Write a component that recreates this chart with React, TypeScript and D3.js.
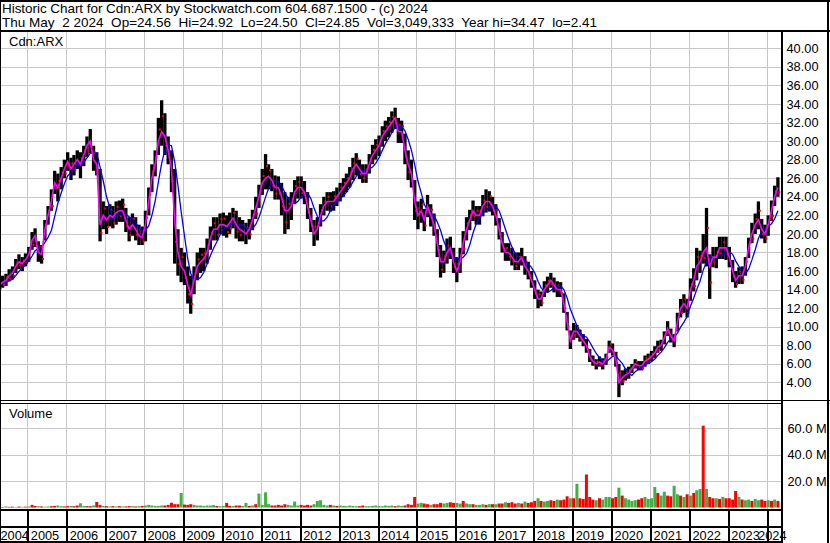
import React, { useEffect, useRef } from 'react';
import * as d3 from 'd3';

// monthly data, first entry = April 2004, last = April 2024
const START_YEAR = 2004;
const START_MONTH = 3; // April

// monthly average price (what the short moving average follows)
const avg = [
  14.5, 14.8, 15.0, 15.5, 15.8, 16.5, 17.0, 16.8, 17.2, // 2004
  17.8, 19.3, 19.8, 18.0, 17.8, 20.5, 22.0, 23.5, 25.5, 25.0, 26.0, 27.0, // 2005
  27.8, 27.0, 27.5, 28.0, 27.5, 28.5, 29.5, 30.0, 28.0, 27.5, 21.0, 22.0, // 2006
  21.5, 22.0, 21.8, 22.3, 22.5, 22.5, 21.5, 20.5, 21.0, 20.5, 19.8, 19.6, // 2007
  21.0, 23.5, 26.0, 27.5, 30.0, 31.0, 30.5, 29.0, 27.0, 21.5, 18.0, 16.5, // 2008
  16.0, 14.5, 13.5, 15.0, 16.5, 17.0, 17.3, 18.0, 19.5, 20.5, 20.5, 21.0, // 2009
  21.0, 20.8, 21.2, 21.7, 21.0, 20.5, 20.3, 20.0, 20.5, 21.5, 22.8, 24.0, // 2010
  25.5, 26.0, 26.2, 25.8, 25.0, 25.0, 24.0, 22.5, 22.5, 23.0, 24.5, 25.0, // 2011
  25.0, 24.5, 23.0, 21.5, 20.0, 20.5, 22.0, 23.0, 23.5, 23.5, 23.5, 24.0, // 2012
  24.5, 25.0, 25.5, 26.0, 27.0, 27.5, 27.0, 26.5, 26.5, 27.5, 28.5, 29.0, // 2013
  29.5, 30.5, 31.0, 31.5, 32.0, 32.5, 31.0, 31.0, 29.0, 27.5, 26.5, 23.5, // 2014
  22.0, 22.5, 21.5, 23.0, 22.0, 21.0, 19.0, 17.0, 17.0, 18.0, 18.5, 17.0, // 2015
  16.0, 17.0, 19.0, 20.5, 21.5, 22.5, 22.0, 22.0, 23.0, 23.5, 23.5, 23.0, // 2016
  22.0, 20.5, 19.0, 18.0, 18.0, 17.5, 17.0, 17.0, 17.5, 16.5, 16.0, 15.0, // 2017
  14.0, 13.0, 13.0, 14.0, 14.5, 15.0, 14.5, 14.0, 14.0, 12.5, 10.5, 8.5, // 2018
  9.5, 9.5, 9.0, 8.5, 8.0, 6.8, 6.3, 6.0, 6.2, 6.0, 6.5, 7.8, // 2019
  7.5, 6.5, 4.0, 4.5, 4.8, 5.0, 5.5, 6.0, 5.8, 5.8, 6.3, 6.5, // 2020
  6.8, 7.2, 7.8, 8.0, 8.8, 9.8, 9.0, 8.5, 10.5, 12.0, 12.5, 12.0, // 2021
  14.0, 15.0, 16.5, 17.0, 18.0, 18.5, 16.5, 17.5, 17.5, 18.5, 18.5, 18.5, // 2022
  17.5, 16.0, 15.0, 15.5, 15.5, 16.5, 18.5, 20.0, 21.0, 21.5, 20.5, 20.0, // 2023
  21.0, 22.5, 24.0, 25.0, // 2024
];

// monthly high
const hi = [
  15.2, 15.5, 15.7, 16.2, 16.5, 17.3, 17.8, 17.5, 17.9,
  18.6, 20.2, 20.6, 19.2, 18.8, 21.5, 23.0, 24.8, 26.8, 26.5, 27.2, 28.0,
  28.8, 28.2, 28.5, 29.0, 28.8, 29.5, 30.5, 31.3, 29.5, 28.8, 27.0, 23.5,
  23.0, 23.2, 23.0, 23.5, 23.6, 23.8, 22.8, 21.8, 22.2, 21.8, 21.0, 20.8,
  22.5, 25.0, 27.5, 29.0, 32.5, 34.4, 33.0, 30.5, 29.0, 27.0, 20.5, 18.5,
  18.0, 16.5, 15.5, 16.5, 18.0, 18.5, 18.5, 19.5, 20.8, 21.8, 21.8, 22.2,
  22.3, 22.0, 22.3, 22.8, 22.5, 21.8, 21.5, 21.2, 21.6, 22.6, 24.0, 25.3,
  27.0, 28.6, 27.5, 27.0, 26.3, 26.2, 25.5, 24.5, 24.0, 24.5, 25.8, 26.2,
  26.2, 25.7, 24.5, 22.8, 21.5, 21.8, 23.2, 24.0, 24.5, 24.5, 24.6, 25.0,
  25.5, 26.0, 26.5, 27.2, 28.2, 28.7, 28.0, 27.5, 27.5, 28.6, 29.6, 30.2,
  30.6, 31.6, 32.2, 32.6, 33.2, 33.6, 32.5, 32.2, 30.8, 29.0, 28.0, 25.8,
  23.5, 23.8, 22.7, 24.2, 23.2, 22.2, 20.5, 18.8, 18.2, 19.5, 19.7, 18.5,
  17.5, 18.5, 20.3, 21.8, 22.6, 23.6, 23.0, 23.0, 24.2, 24.8, 24.6, 24.0,
  23.2, 21.7, 20.2, 19.0, 19.0, 18.5, 18.0, 18.0, 18.5, 17.6, 17.0, 16.0,
  15.0, 14.0, 13.8, 14.9, 15.4, 15.8, 15.3, 14.9, 14.8, 13.6, 11.6, 9.6,
  10.4, 10.2, 9.7, 9.2, 8.7, 7.6, 6.9, 6.5, 6.8, 6.6, 7.1, 8.5,
  8.2, 7.3, 6.0, 5.3, 5.5, 5.7, 6.0, 6.5, 6.3, 6.3, 6.9, 7.1,
  7.4, 7.9, 8.5, 8.6, 9.5, 10.6, 9.8, 9.2, 11.5, 13.0, 13.5, 13.0,
  15.2, 16.3, 18.5, 18.2, 20.0, 22.8, 17.8, 18.6, 18.6, 19.7, 19.7, 19.7,
  18.6, 17.2, 16.0, 16.4, 16.5, 17.5, 19.6, 21.2, 22.2, 23.5, 21.6, 21.0,
  22.0, 23.6, 25.2, 26.1,
];

// monthly low
const lo = [
  13.9, 14.2, 14.4, 14.9, 15.1, 15.8, 16.2, 16.0, 16.5,
  17.0, 18.3, 18.6, 17.0, 16.8, 19.3, 21.0, 22.5, 24.3, 23.5, 24.8, 26.0,
  26.8, 25.8, 26.3, 27.0, 26.0, 27.3, 28.3, 28.7, 26.8, 26.3, 19.2, 20.5,
  20.0, 20.8, 20.6, 21.0, 21.3, 21.3, 20.2, 19.2, 19.8, 19.3, 18.8, 18.8,
  19.2, 22.0, 24.5, 26.2, 28.5, 29.5, 28.5, 27.5, 24.5, 16.8, 15.5, 14.8,
  14.5, 12.5, 11.4, 13.5, 15.0, 15.8, 16.0, 16.8, 18.3, 19.3, 19.3, 20.0,
  19.8, 19.6, 20.0, 20.6, 19.5, 19.2, 19.2, 18.9, 19.4, 20.4, 21.6, 22.8,
  24.2, 24.8, 24.8, 24.6, 23.7, 23.7, 22.0, 20.0, 20.5, 21.5, 23.2, 23.8,
  23.8, 23.2, 21.6, 20.2, 18.7, 19.3, 20.8, 22.0, 22.5, 22.4, 22.5, 23.0,
  23.5, 24.0, 24.5, 25.0, 25.8, 26.3, 25.9, 25.5, 25.5, 26.5, 27.5, 28.0,
  28.4, 29.4, 30.0, 30.4, 30.9, 31.3, 29.8, 29.8, 27.5, 25.8, 25.0, 21.5,
  20.5, 21.2, 20.3, 21.8, 20.8, 19.8, 17.5, 15.3, 15.8, 16.8, 17.3, 15.8,
  14.8, 15.8, 17.8, 19.3, 20.4, 21.4, 21.0, 21.0, 21.9, 22.3, 22.4, 22.0,
  20.9, 19.4, 18.0, 17.1, 17.1, 16.6, 16.1, 16.1, 16.6, 15.6, 15.1, 14.2,
  13.0, 12.0, 12.2, 13.2, 13.7, 14.2, 13.7, 13.2, 13.2, 11.5, 9.6, 7.6,
  8.6, 8.8, 8.4, 7.9, 7.2, 6.2, 5.8, 5.4, 5.7, 5.4, 5.9, 7.2,
  6.9, 5.7, 2.41, 3.7, 4.2, 4.4, 5.0, 5.5, 5.3, 5.3, 5.7, 6.0,
  6.3, 6.6, 7.2, 7.4, 8.1, 9.0, 8.3, 7.8, 9.5, 11.0, 11.5, 11.0,
  12.8, 13.8, 15.0, 15.8, 16.8, 16.5, 13.0, 16.4, 16.3, 17.3, 17.3, 17.2,
  16.4, 14.8, 14.2, 14.6, 14.6, 15.5, 17.4, 19.0, 20.0, 20.5, 19.5, 19.0,
  19.8, 21.4, 23.0, 24.0,
];

// biggest daily volume in each month, millions
const vol = [
  0.5, 0.4, 0.8, 0.5, 0.6, 0.4, 0.7, 0.5, 0.6,
  0.8, 2.0, 1.2, 1.0, 0.8, 0.6, 0.8, 1.0, 1.2, 1.5, 1.0, 0.8,
  1.0, 1.2, 1.0, 1.5, 3.2, 1.2, 1.0, 1.0, 1.5, 4.2, 2.0, 1.2,
  1.0, 0.8, 1.0, 0.8, 1.0, 0.8, 0.8, 1.0, 1.0, 0.8, 1.0, 1.2,
  1.5, 2.0, 1.5, 1.2, 1.2, 1.5, 1.5, 2.0, 3.6, 2.5, 2.5, 11.0,
  2.2, 2.0, 2.5, 2.0, 1.5, 1.5, 1.2, 1.5, 1.5, 1.8, 1.2, 1.0,
  1.2, 3.5, 1.2, 1.2, 1.5, 1.5, 1.2, 3.5, 1.2, 1.5, 2.5, 10.5,
  2.0, 11.5, 2.5, 1.5, 1.5, 2.0, 1.5, 2.5, 2.0, 1.5, 4.5, 1.5,
  2.0, 1.5, 2.0, 1.5, 2.5, 5.0, 5.5, 2.0, 1.5, 2.0, 1.5, 1.2,
  1.5, 1.2, 1.0, 1.5, 1.2, 1.0, 1.0, 1.5, 1.0, 1.0, 1.2, 1.5,
  1.2, 1.0, 1.5, 1.2, 1.5, 1.0, 1.5, 1.2, 1.5, 2.5, 2.0, 8.0,
  3.0, 3.5, 3.0, 2.5, 2.0, 2.5, 2.5, 3.5, 3.0, 3.5, 4.0, 3.5,
  3.5, 3.0, 5.0, 3.0, 2.5, 2.5, 2.0, 2.0, 2.5, 2.0, 2.5, 2.5,
  2.5, 3.0, 3.0, 4.0, 3.5, 4.0, 3.0, 3.5, 3.0, 4.5, 3.5, 4.0,
  5.0, 7.0, 5.0, 4.5, 5.0, 5.5, 5.0, 6.0, 5.5, 6.0, 8.5, 7.0,
  7.0, 18.0, 7.0, 6.5, 25.0, 8.0, 6.0, 5.5, 7.0, 6.0, 8.0, 8.0,
  7.0, 8.0, 15.0, 9.0, 7.0, 6.0, 5.0, 5.5, 6.0, 7.0, 8.0, 6.5,
  7.0, 15.5, 11.0, 9.0, 12.0, 9.0, 8.5, 16.5, 10.0, 9.0, 8.0, 10.0,
  9.0, 11.0, 13.0, 14.0, 62.0, 14.0, 8.0, 7.0, 7.0, 6.5, 8.0, 7.0,
  7.0, 6.0, 12.5, 8.0, 6.0, 5.5, 6.0, 5.0, 6.5, 5.5, 6.0, 5.0,
  5.5, 5.0, 6.0, 5.0,
];

// u = up (green volume), d = down (red volume)
const dir = [
  'dduddudud',
  'udduduudduud',
  'dudduudduddu',
  'dudududdudud',
  'uuuuuudddddu',
  'ddduuuuuuudu',
  'uddudduududu',
  'uuuddddduuuu',
  'dddduuuuudud',
  'uuuuuudduuuu',
  'uuuuuduudddd',
  'uudduddduudd',
  'uuduuduuudud',
  'uddudddududd',
  'duduuddudddu',
  'duddddduduuu',
  'dduduuuudduu',
  'uuduudduudud',
  'uduududdudud',
  'ddduduuduudd',
  'udud',
].join('');

const years = d3.range(2004, 2025);
const priceTicks = d3.range(4, 41, 2);
const volTicks = [20, 40, 60];

const headerLine1 = 'Historic Chart for Cdn:ARX by Stockwatch.com 604.687.1500 - (c) 2024';
const headerLine2 = 'Thu May  2 2024  Op=24.56  Hi=24.92  Lo=24.50  Cl=24.85  Vol=3,049,333  Year hi=34.47  lo=2.41';

export default function App() {
  const ref = useRef<SVGSVGElement | null>(null);

  useEffect(() => {
    const W = 830;
    const H = 543;
    const plotR = 781;
    const priceTop = 31;
    const priceBot = 401;
    const volTop = 404;
    const volBot = 509;
    const font = '"Liberation Sans", Arial, sans-serif';

    const svg = d3.select(ref.current);
    svg.selectAll('*').remove();

    const x = d3.scaleTime()
      .domain([new Date(2004, 3, 20), new Date(2024, 4, 14)])
      .range([0, plotR]);
    const y = d3.scaleLinear().domain([2, 41.86]).range([priceBot, priceTop]);
    const yv = d3.scaleLinear().domain([0, 60]).range([507.5, 428.3]);

    const data = avg.map((a, i) => ({
      date: new Date(START_YEAR, START_MONTH + i, 15),
      avg: a,
      hi: hi[i],
      lo: lo[i],
      vol: vol[i],
      up: dir[i] === 'u',
    }));
    // slow average: 5 months (~100 days)
    const slow = data.map((d, i) => {
      const w = data.slice(Math.max(0, i - 4), i + 1);
      return { date: d.date, v: d3.mean(w, (e) => e.avg) as number };
    });

    svg.append('rect').attr('width', W).attr('height', H).attr('fill', '#fff');

    const defs = svg.append('defs');
    defs.append('clipPath').attr('id', 'clipPrice')
      .append('rect').attr('x', 0).attr('y', priceTop).attr('width', plotR).attr('height', priceBot - priceTop);
    defs.append('clipPath').attr('id', 'clipVol')
      .append('rect').attr('x', 0).attr('y', volTop).attr('width', plotR).attr('height', volBot - volTop);

    // grid
    const grid = svg.append('g').attr('stroke', '#c8c8c8').attr('stroke-width', 1).attr('shape-rendering', 'crispEdges');
    years.slice(1).forEach((yr) => {
      const gx = Math.round(x(new Date(yr, 0, 1))) + 0.5;
      grid.append('line').attr('x1', gx).attr('x2', gx).attr('y1', priceTop).attr('y2', priceBot);
      grid.append('line').attr('x1', gx).attr('x2', gx).attr('y1', volTop).attr('y2', volBot);
    });
    priceTicks.forEach((t) => {
      const gy = Math.round(y(t)) + 0.5;
      grid.append('line').attr('x1', 0).attr('x2', plotR).attr('y1', gy).attr('y2', gy);
    });
    volTicks.forEach((t) => {
      const gy = Math.round(yv(t)) + 0.5;
      grid.append('line').attr('x1', 0).attr('x2', plotR).attr('y1', gy).attr('y2', gy);
    });

    // price bars
    const price = svg.append('g').attr('clip-path', 'url(#clipPrice)');
    price.selectAll('rect.bar')
      .data(data)
      .enter().append('rect')
      .attr('class', 'bar')
      .attr('x', (d) => x(d.date) - 1.65)
      .attr('width', 3.3)
      .attr('y', (d) => y(d.hi))
      .attr('height', (d) => y(d.lo) - y(d.hi))
      .attr('fill', '#000');

    price.selectAll('rect.tick')
      .data(data)
      .enter().append('rect')
      .attr('class', 'tick')
      .attr('x', (d) => x(d.date) + 0.4)
      .attr('y', (d) => y(d.up ? (d.avg + d.hi) / 2 : (d.avg + d.lo) / 2) - 1)
      .attr('width', 2)
      .attr('height', 2)
      .attr('fill', '#ff0000');

    price.append('path')
      .datum(slow)
      .attr('fill', 'none')
      .attr('stroke', '#0000ff')
      .attr('stroke-width', 1.3)
      .attr('d', d3.line<{ date: Date; v: number }>().x((d) => x(d.date)).y((d) => y(d.v)));

    price.append('path')
      .datum(data)
      .attr('fill', 'none')
      .attr('stroke', '#ff00ff')
      .attr('stroke-width', 1.6)
      .attr('d', d3.line<any>().x((d) => x(d.date)).y((d) => y(d.avg)));

    // volume bars
    const vg = svg.append('g').attr('clip-path', 'url(#clipVol)');
    vg.selectAll('rect')
      .data(data)
      .enter().append('rect')
      .attr('x', (d) => x(d.date) - 1.5)
      .attr('width', 3)
      .attr('y', (d) => yv(d.vol))
      .attr('height', (d) => yv(0) - yv(d.vol))
      .attr('fill', (d) => (d.up ? '#40b040' : '#ff0000'));

    // frame lines
    const frame = svg.append('g').attr('stroke', '#000').attr('shape-rendering', 'crispEdges');
    frame.append('line').attr('x1', 0).attr('x2', W).attr('y1', 1).attr('y2', 1).attr('stroke-width', 2);
    frame.append('line').attr('x1', 0.5).attr('x2', 0.5).attr('y1', 0).attr('y2', H).attr('stroke-width', 1);
    frame.append('line').attr('x1', 828).attr('x2', 828).attr('y1', 0).attr('y2', H).attr('stroke-width', 2);
    frame.append('line').attr('x1', 0).attr('x2', W).attr('y1', 30.5).attr('y2', 30.5).attr('stroke-width', 2);
    frame.append('line').attr('x1', plotR + 0.5).attr('x2', plotR + 0.5).attr('y1', 30).attr('y2', H).attr('stroke-width', 2);
    frame.append('line').attr('x1', 0).attr('x2', W).attr('y1', 400.5).attr('y2', 400.5).attr('stroke-width', 1);
    frame.append('line').attr('x1', 0).attr('x2', plotR).attr('y1', 403.5).attr('y2', 403.5).attr('stroke-width', 1);
    frame.append('line').attr('x1', 0).attr('x2', plotR).attr('y1', 509.5).attr('y2', 509.5).attr('stroke-width', 2);
    frame.append('line').attr('x1', 0).attr('x2', plotR).attr('y1', 527).attr('y2', 527).attr('stroke-width', 2);
    frame.append('line').attr('x1', 0).attr('x2', plotR).attr('y1', 541.5).attr('y2', 541.5).attr('stroke-width', 2);
    years.slice(1).forEach((yr) => {
      const gx = Math.round(x(new Date(yr, 0, 1))) + 0.5;
      frame.append('line').attr('x1', gx).attr('x2', gx).attr('y1', 509).attr('y2', 542).attr('stroke-width', 2);
    });

    // texts
    const txt = svg.append('g').attr('font-family', font).attr('fill', '#000');
    txt.append('text').attr('x', 2).attr('y', 13).attr('font-size', 13.5)
      .attr('textLength', 426).attr('lengthAdjust', 'spacing')
      .style('white-space', 'pre').text(headerLine1);
    txt.append('text').attr('x', 2).attr('y', 27).attr('font-size', 13.5)
      .attr('textLength', 595).attr('lengthAdjust', 'spacing')
      .style('white-space', 'pre').text(headerLine2);
    txt.append('text').attr('x', 9).attr('y', 46).attr('font-size', 13).text('Cdn:ARX');
    txt.append('text').attr('x', 9).attr('y', 418).attr('font-size', 13).text('Volume');

    priceTicks.forEach((t) => {
      txt.append('text').attr('x', 786.5).attr('y', y(t) + 4.6).attr('font-size', 12.8).text(t.toFixed(2));
    });
    volTicks.forEach((t) => {
      txt.append('text').attr('x', 787.5).attr('y', yv(t) + 4.6).attr('font-size', 12.8).text(`${t.toFixed(1)} M`);
    });

    years.forEach((yr, i) => {
      const gx = x(new Date(yr, 0, 1));
      const t = txt.append('text').attr('y', 540).attr('font-size', 12.8).text(String(yr));
      if (i === 0) {
        t.attr('x', 0.5);
      } else if (i === years.length - 1) {
        t.attr('x', 786.5).attr('text-anchor', 'end');
      } else {
        t.attr('x', gx + 3.5);
      }
    });
  }, []);

  return (
    <div>
      <style>{'body{margin:0;}'}</style>
      <svg ref={ref} width={830} height={543} style={{ display: 'block' }} />
    </div>
  );
}
